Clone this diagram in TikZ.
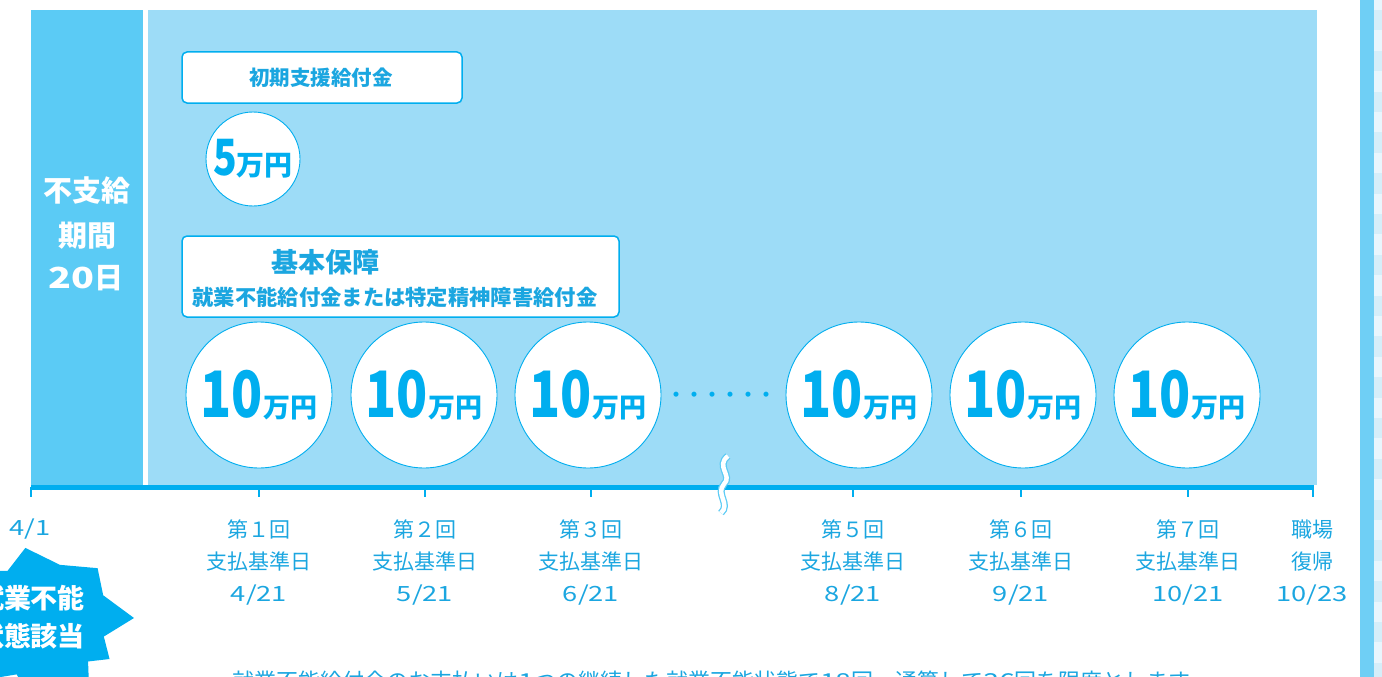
\documentclass[tikz,border=0pt]{standalone}
\usepackage{fontspec}
\usepackage{graphicx}
\setmainfont{Noto Sans CJK JP}
\definecolor{cy}{HTML}{00AEEF}
\definecolor{txt}{HTML}{1BA6E0}
\definecolor{stripe}{HTML}{5BCBF5}
\definecolor{panel}{HTML}{9DDCF7}
\definecolor{edge}{HTML}{6FCFF5}
\definecolor{chkA}{HTML}{D6EEF9}
\definecolor{chkB}{HTML}{E9F6FD}
\newcommand{\fsz}[1]{\fontsize{#1}{#1}\selectfont}
\newcommand{\widenum}[1]{\scalebox{1.3}[1]{#1}}
\tikzset{
  circ/.style={circle, fill=white, draw=cy, line width=0.9pt, inner sep=0pt, minimum size=146pt, text=cy},
  smallcirc/.style={circle, fill=white, draw=cy, line width=0.9pt, inner sep=0pt, minimum size=94pt, text=cy},
  labelbox/.style={rounded corners=5pt, fill=white, draw=cy, line width=1.5pt, inner sep=0pt},
  datelbl/.style={text=txt, align=center, font=\fsz{21}, inner sep=0pt},
  tick/.style={draw=cy, line width=2pt},
  wtext/.style={text=white, font=\bfseries\fsz{29}, inner sep=0pt},
}
\newcommand{\tenman}{{\bfseries\fsz{64}\scalebox{0.8}[1]{10}}\hspace{1pt}{\bfseries\fsz{27}万円}}
\begin{document}
\begin{tikzpicture}[x=1pt,y=-1pt]
\useasboundingbox (0,0) rectangle (1382,677);
% right edge stripe
\fill[edge] (1360,0) rectangle (1374,677);
\fill[chkB] (1374,0) rectangle (1382,10);
\foreach \i in {0,...,33}{
  \pgfmathsetmacro{\ya}{10+\i*20.4}
  \pgfmathtruncatemacro{\odd}{mod(\i,2)}
  \ifnum\odd=0 \fill[chkA] (1374,\ya) rectangle (1382,\ya+20.4);
  \else \fill[chkB] (1374,\ya) rectangle (1382,\ya+20.4); \fi
}
% panels
\fill[stripe] (31,10) rectangle (143,485);
\fill[panel] (148,10) rectangle (1317,485);
% non-payment text
\node[wtext] (np1) at (87,191) {不支給};
\node[wtext] (np2) at (87,236) {期間};
\node[wtext] (np3) at (86,278) {\widenum{20}日};
% boxes
\node[labelbox, minimum width=280pt, minimum height=51pt] (b1) at (322,77.5) {};
\node[text=txt, font=\bfseries\fsz{20.5}, inner sep=0pt] (b1t) at (321,78) {初期支援給付金};
\node[smallcirc] (c0) at (253,159) {{\bfseries\fsz{50}\scalebox{0.78}[1]{5}}{\bfseries\fsz{28}万円}};
\node[labelbox, minimum width=437pt, minimum height=81pt] (b2) at (400.5,276.5) {};
\node[text=txt, font=\bfseries\fsz{27}, inner sep=0pt] (b2t) at (325,262) {基本保障};
\node[text=txt, font=\bfseries\fsz{21.3}, inner sep=0pt] (b2s) at (395,297) {就業不能給付金または特定精神障害給付金};
% circles
\node[circ] (c1) at (259,395) {\tenman};
\node[circ] (c2) at (424,395) {\tenman};
\node[circ] (c3) at (588,395) {\tenman};
\node[circ] (c5) at (859,395) {\tenman};
\node[circ] (c6) at (1023,395) {\tenman};
\node[circ] (c7) at (1187,395) {\tenman};
\node[text=cy, font=\bfseries\fsz{18}, inner sep=0pt] (dots) at (721,397) {・・・・・・};
% axis
\coordinate (a0) at (31,487.5);
\coordinate (a8) at (1314,487.5);
\draw[cy, line width=4.5pt] (a0) -- (a8);
\foreach \x/\n in {31/t0,259/t1,425/t2,591/t3,853/t5,1021/t6,1188/t7,1313/t8}{
  \coordinate (\n) at (\x,487);
  \draw[tick] (\n) -- ++(0,10);
}
% break
\coordinate (br1) at (728,456);
\coordinate (br2) at (724,484);
\coordinate (br3) at (721,513);
\draw[stripe, line width=7pt] (br1) .. controls (715,466) and (733,476) .. (br2) .. controls (715,494) and (731,504) .. (br3);
\draw[white, line width=4.5pt] (br1) .. controls (715,466) and (733,476) .. (br2) .. controls (715,494) and (731,504) .. (br3);
% date labels
\node[datelbl] (d0) at (30,529) {\widenum{4/1}};
\node[datelbl, anchor=north] (d1) at (259,520) {第１回\\[11pt]支払基準日\\[11pt]\widenum{4/21}};
\node[datelbl, anchor=north] (d2) at (425,520) {第２回\\[11pt]支払基準日\\[11pt]\widenum{5/21}};
\node[datelbl, anchor=north] (d3) at (591,520) {第３回\\[11pt]支払基準日\\[11pt]\widenum{6/21}};
\node[datelbl, anchor=north] (d5) at (853,520) {第５回\\[11pt]支払基準日\\[11pt]\widenum{8/21}};
\node[datelbl, anchor=north] (d6) at (1021,520) {第６回\\[11pt]支払基準日\\[11pt]\widenum{9/21}};
\node[datelbl, anchor=north] (d7) at (1188,520) {第７回\\[11pt]支払基準日\\[11pt]\widenum{10/21}};
\node[datelbl, anchor=north] (d8) at (1312,520) {職場\\[11pt]復帰\\[11pt]\widenum{10/23}};
% burst
\fill[cy] (42+92,618)
  -- ({42+66*cos(22)},{620-66*sin(22)})
  -- ({42+76*cos(43)},{620-76*sin(43)})
  -- ({42+58*cos(72)},{620-58*sin(72)})
  -- ({42+74*cos(103)},{620-74*sin(103)})
  -- ({42+60*cos(125)},{620-60*sin(125)})
  -- ({42+85*cos(145)},{620-85*sin(145)})
  -- ({42+60*cos(165)},{620-60*sin(165)})
  -- ({42+85*cos(185)},{620-85*sin(185)})
  -- ({42+60*cos(205)},{620-60*sin(205)})
  -- ({42+85*cos(225)},{620-85*sin(225)})
  -- ({42+60*cos(245)},{620-60*sin(245)})
  -- ({42+85*cos(265)},{620-85*sin(265)})
  -- ({42+60*cos(285)},{620-60*sin(285)})
  -- ({42+82*cos(305)},{620-82*sin(305)})
  -- ({42+62*cos(318)},{620-62*sin(318)})
  -- ({42+78*cos(330)},{620-78*sin(330)})
  -- ({42+64*cos(345)},{620-64*sin(345)})
  -- cycle;
\node[text=white, font=\bfseries\fsz{27}, inner sep=0pt] (s1) at (31,598) {就業不能};
\node[text=white, font=\bfseries\fsz{27}, inner sep=0pt] (s2) at (31,636) {状態該当};
% note
\node[text=txt, font=\fsz{22}, anchor=west, inner sep=0pt] (note) at (210,681) {・就業不能給付金のお支払いは\widenum{1}つの継続した就業不能状態で\widenum{18}回、通算して\widenum{36}回を限度とします。};
\end{tikzpicture}
\end{document}
